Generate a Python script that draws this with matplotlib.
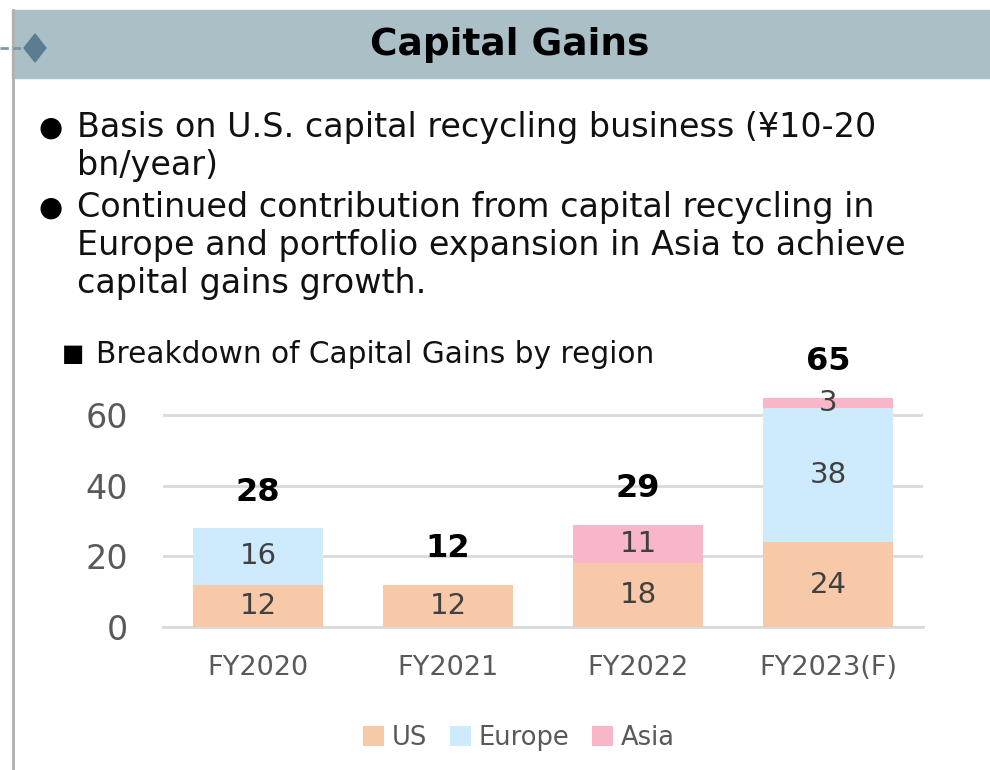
import numpy as np
import matplotlib.pyplot as plt
from matplotlib.patches import Rectangle, Polygon

# データ
categories = ['FY2020', 'FY2021', 'FY2022', 'FY2023(F)']
us = [12, 12, 18, 24]
europe = [16, 0, 0, 38]
asia = [0, 0, 11, 3]
totals = [28, 12, 29, 65]
series_names = ['US', 'Europe', 'Asia']
colors = ['#F7C9A9', '#CDEBFC', '#FAB6C9']

bullets = [
    'Basis on U.S. capital recycling business (¥10-20\nbn/year)',
    'Continued contribution from capital recycling in\nEurope and portfolio expansion in Asia to achieve\ncapital gains growth.',
]

fig = plt.figure(figsize=(9.9, 7.7), dpi=100)
plt.rcParams['font.family'] = ['DejaVu Sans']

# タイトル帯
fig.patches.append(Rectangle((12 / 990, 1 - 78 / 770), 978 / 990, 68 / 770,
                             transform=fig.transFigure, color='#AABFC6', zorder=0))
fig.lines.append(plt.Line2D([13 / 990, 13 / 990], [0, 1 - 10 / 770], transform=fig.transFigure,
                            color='#B0B0B0', lw=2))
fig.lines.append(plt.Line2D([0, 25 / 990], [1 - 48 / 770, 1 - 48 / 770], transform=fig.transFigure,
                            color='#7A98A8', lw=2, ls=(0, (3, 1.5))))
fig.patches.append(Polygon([(24 / 990, 1 - 48 / 770), (35 / 990, 1 - 34 / 770),
                            (46 / 990, 1 - 48 / 770), (35 / 990, 1 - 62 / 770)],
                           transform=fig.transFigure, color='#5B7D91'))
fig.text(510 / 990, 1 - 45 / 770, 'Capital Gains', ha='center', va='center',
         fontsize=27, fontweight='bold', color='black')

# 箇条書き
y_pos = [128, 208]
for b, yp in zip(bullets, y_pos):
    fig.text(38 / 990, 1 - yp / 770, '●', fontsize=20, va='center', ha='left')
    fig.text(77 / 990, 1 - (yp - 17) / 770, b, fontsize=24, va='top', ha='left',
             linespacing=1.2, color='#111111')

fig.text(62 / 990, 1 - 354 / 770, '■', fontsize=17, va='center', ha='left')
fig.text(96 / 990, 1 - 354 / 770, 'Breakdown of Capital Gains by region', fontsize=21.3,
         va='center', ha='left', color='#111111')

# 棒グラフ
ax = fig.add_axes([163 / 990, (770 - 627) / 770, 760 / 990, 247 / 770])
x = np.arange(len(categories))
w = 0.68
bottom = np.zeros(len(categories))
for vals, name, c in zip([us, europe, asia], series_names, colors):
    vals = np.array(vals)
    ax.bar(x, vals, w, bottom=bottom, color=c, label=name, zorder=2)
    for xi, v, b in zip(x, vals, bottom):
        if v > 0:
            ax.text(xi, b + v / 2, str(v), ha='center', va='center', fontsize=21,
                    color='#404040', zorder=3)
    bottom += vals

for xi, t in zip(x, totals):
    ax.annotate(str(t), (xi, t), xytext=(0, 26), textcoords='offset points',
                ha='center', va='center', fontsize=23, fontweight='bold')

ax.set_xlim(-0.5, 3.5)
ax.set_ylim(0, 70)
ax.set_yticks([0, 20, 40, 60])
ax.grid(axis='y', color='#D9D9D9', lw=2, zorder=0)
ax.axhline(0, color='#D9D9D9', lw=2, zorder=1, clip_on=False)
for s in ax.spines.values():
    s.set_visible(False)
ax.tick_params(axis='both', length=0, colors='#595959')
ax.tick_params(axis='y', labelsize=24, pad=25)
ax.tick_params(axis='x', labelsize=19.5, pad=20)
ax.set_xticks(x)
ax.set_xticklabels(categories)

ax.legend(loc='center', bbox_to_anchor=(519 / 990, 1 - 738 / 770), bbox_transform=fig.transFigure,
          ncol=3, frameon=False, fontsize=18.5, handlelength=0.8, handleheight=0.8,
          handletextpad=0.3, columnspacing=0.9, labelcolor='#595959')

plt.savefig('out.png', dpi=100)
